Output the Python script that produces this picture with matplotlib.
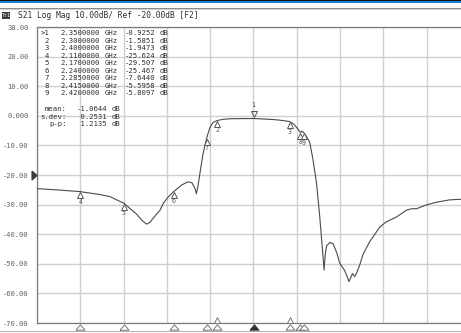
import numpy as np
import matplotlib
matplotlib.use("Agg")
import matplotlib.pyplot as plt
from matplotlib import transforms
from matplotlib.patches import Rectangle

plt.rcParams['font.family'] = ['DejaVu Sans Mono']

freq_ghz = [2.050, 2.0818, 2.110, 2.1372, 2.151, 2.170, 2.1788, 2.188, 2.1953,
            2.2019, 2.2064, 2.2157, 2.2203, 2.2249, 2.2318, 2.240, 2.2504,
            2.259, 2.2646, 2.2688, 2.2708, 2.2729, 2.2757, 2.2803, 2.285,
            2.2895, 2.2941, 2.300, 2.3075, 2.3172, 2.3311, 2.350, 2.3657,
            2.3795, 2.3906, 2.400, 2.4058, 2.410, 2.415, 2.4175, 2.420,
            2.4238, 2.4279, 2.4325, 2.4373, 2.4418, 2.4456, 2.4478, 2.4494,
            2.4511, 2.4556, 2.4603, 2.4654, 2.4695, 2.4764, 2.4824, 2.4871,
            2.4902, 2.493, 2.4972, 2.5018, 2.5111, 2.5249, 2.5342, 2.548,
            2.5619, 2.5688, 2.5757, 2.5896, 2.6034, 2.6218, 2.637, 2.650]
s21_db = [-24.6, -25.1, -25.62, -26.6, -27.3, -29.5, -31.3, -33.2, -35.3,
          -36.6, -36.0, -33.2, -32.0, -29.6, -27.4, -25.47, -23.4,
          -22.3, -22.6, -24.5, -26.3, -24.0, -19.5, -12.5, -7.64,
          -4.0, -2.2, -1.585, -1.2, -1.0, -0.95, -0.925, -1.1,
          -1.3, -1.6, -1.947, -2.8, -4.0, -5.60, -5.2, -5.81,
          -7.2, -8.9, -14.9, -22.7, -34.1, -45.3, -52.1, -47.0,
          -44.0, -42.8, -43.2, -46.3, -49.8, -52.3, -56.0, -53.3,
          -54.3, -53.0, -50.4, -46.8, -42.5, -37.6, -35.8, -34.2,
          -31.9, -31.4, -31.4, -30.1, -29.2, -28.4, -28.2, -28.0]

## ================= MARCADORES =================
marker_id = [1, 2, 3, 4, 5, 6, 7, 8, 9]
marker_freq = [2.35, 2.30, 2.40, 2.11, 2.17, 2.24, 2.285, 2.415, 2.42]
marker_db = [-0.9252, -1.5851, -1.9473, -25.624, -29.507, -25.467, -7.6440,
             -5.5958, -5.8097]
active_marker = 1
stacked_markers = [2, 3]

stat_names = ["mean:", "s.dev:", "p-p:"]
stat_values = [-1.0644, 0.2531, 1.2135]

y_ticks = [30, 20, 10, 0, -10, -20, -30, -40, -50, -60, -70]
y_labels = ["30.00", "20.00", "10.00", "0.000", "-10.00", "-20.00", "-30.00",
            "-40.00", "-50.00", "-60.00", "-70.00"]
ref_level = -20.0
f_start, f_stop = 2.05, 2.65
header = "S21 Log Mag 10.00dB/ Ref -20.00dB [F2]"

## ================= FIGURA =================
W, H = 461, 333
fig = plt.figure(figsize=(W / 100, H / 100), dpi=100)
fig.patch.set_facecolor('white')

def fx(x):
    return x / W

def fy(y):
    return 1 - y / H

def band(y0, y1, color):
    fig.add_artist(Rectangle((0, fy(y1)), 1, (y1 - y0) / H,
                             transform=fig.transFigure, color=color, lw=0))

# barras de la ventana
band(0, 1, '#141414')
band(1, 2.7, '#1b86d6')
band(8, 9.3, '#8c8c8c')
band(9.3, 10.3, '#d0d0d0')
band(331, 332.4, '#b0b0b0')

# cabecera
fs = 5.2
tcol = '#2e2e2e'
fig.add_artist(Rectangle((fx(1.7), fy(18.5)), 8.6 / W, 6 / H,
                         transform=fig.transFigure, color='#3c3c3c', lw=0))
fig.text(fx(5.9), fy(15.6), "Tr1", fontsize=3.6, color='white',
         ha='center', va='center')
fig.text(fx(18.3), fy(15.6), header, fontsize=5.7, color=tcol,
         ha='left', va='center')

ax = fig.add_axes([fx(37), fy(323), 433 / W, 296 / H])
ax.set_xlim(f_start, f_stop)
ax.set_ylim(-70, 30)
ax.set_xticks(np.linspace(f_start, f_stop, 11))
ax.set_yticks(y_ticks)
ax.set_yticklabels(y_labels)
ax.grid(True, color='#cfcfcf', lw=1.0)
ax.tick_params(length=0, labelbottom=False, labelsize=5.1,
               labelcolor='#606060', pad=6.0)
for s in ['left', 'bottom', 'top']:
    ax.spines[s].set_color('#7a7a7a')
    ax.spines[s].set_linewidth(0.9)
ax.spines['right'].set_visible(False)

ax.plot(freq_ghz, s21_db, color='#4a4a4a', lw=0.8, zorder=3)

# marcadores sobre la traza
mcol = '#555555'
for mid, f, v in zip(marker_id, marker_freq, marker_db):
    if mid == active_marker:
        tr = transforms.offset_copy(ax.transData, fig=fig, x=0, y=5, units='dots')
        ax.plot(f, v, marker='v', ms=5, mfc='none', mec=mcol, mew=0.7,
                transform=tr, zorder=4)
        tt = transforms.offset_copy(ax.transData, fig=fig, x=0, y=13.5, units='dots')
    else:
        tr = transforms.offset_copy(ax.transData, fig=fig, x=0, y=-3.5, units='dots')
        ax.plot(f, v, marker='^', ms=4.8, mfc='white', mec=mcol, mew=0.7,
                transform=tr, zorder=4)
        tt = transforms.offset_copy(ax.transData, fig=fig, x=0, y=-10, units='dots')
    ax.text(f, v, str(mid), fontsize=4.8, color=mcol, ha='center', va='center',
            transform=tt, zorder=4)

# marcadores en el eje inferior
tri_wide = [(-1, -0.6), (1, -0.6), (0, 0.6), (-1, -0.6)]
blend = transforms.blended_transform_factory(ax.transData, ax.transAxes)
tb = transforms.offset_copy(blend, fig=fig, x=0, y=-4.2, units='dots')
ts = transforms.offset_copy(blend, fig=fig, x=0, y=3.0, units='dots')
for mid, f in zip(marker_id, marker_freq):
    face = '#333333' if mid == active_marker else 'white'
    edge = '#333333' if mid == active_marker else '#777777'
    ax.plot([f], [0], linestyle='none', marker=tri_wide, ms=6.5, mfc=face,
            mec=edge, mew=0.7, transform=tb, clip_on=False, zorder=5)
    if mid in stacked_markers:
        ax.plot([f], [0], linestyle='none', marker='^', ms=4, mfc='white',
                mec='#777777', mew=0.7, transform=ts, clip_on=False, zorder=5)

# referencia a la izquierda
tri_right = [(-0.55, 1), (-0.55, -1), (0.55, 0), (-0.55, 1)]
blend_y = transforms.blended_transform_factory(ax.transAxes, ax.transData)
tref = transforms.offset_copy(blend_y, fig=fig, x=-2.8, y=0, units='dots')
ax.plot([0], [ref_level], linestyle='none', marker=tri_right, ms=6.2,
        color='#3a3a3a', transform=tref, clip_on=False, zorder=5)

# tabla de marcadores
row0, dy = 33.0, 7.54
for i, (mid, f, v) in enumerate(zip(marker_id, marker_freq, marker_db)):
    yy = fy(row0 + i * dy)
    tag = (">%d" % mid) if mid == active_marker else str(mid)
    val = f"{v:.4f}" if abs(v) < 10 else f"{v:.3f}"
    fig.text(fx(49), yy, tag, fontsize=fs, color=tcol, ha='right', va='center')
    fig.text(fx(60), yy, f"{f:.7f}", fontsize=fs, color=tcol, va='center')
    fig.text(fx(105), yy, "GHz", fontsize=fs, color=tcol, va='center')
    fig.text(fx(124.5), yy, val, fontsize=fs, color=tcol, va='center')
    fig.text(fx(159.5), yy, "dB", fontsize=fs, color=tcol, va='center')

for i, (name, v) in enumerate(zip(stat_names, stat_values)):
    yy = fy(109 + i * 7.6)
    fig.text(fx(66.5), yy, name, fontsize=fs, color=tcol, ha='right', va='center')
    fig.text(fx(76.5), yy, f"{v:7.4f}", fontsize=fs, color=tcol, va='center')
    fig.text(fx(111.5), yy, "dB", fontsize=fs, color=tcol, va='center')

fig.savefig("out.png", dpi=100)
